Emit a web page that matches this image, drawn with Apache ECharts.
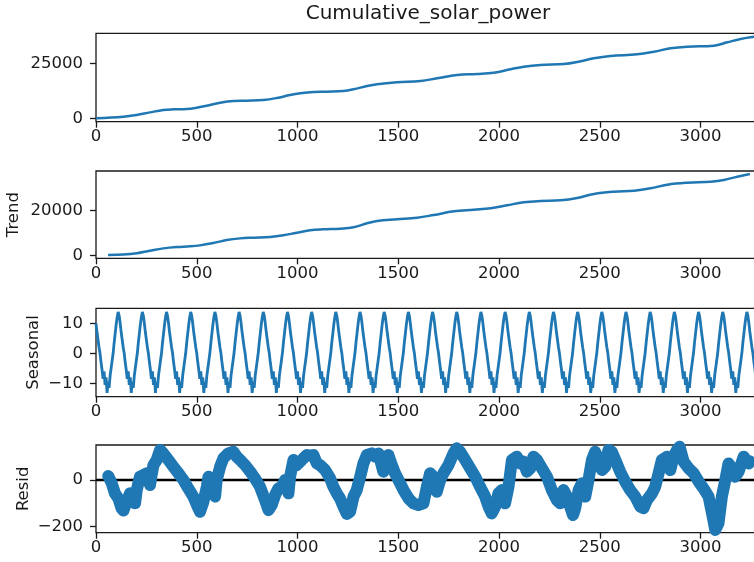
<!DOCTYPE html>
<html>
<head>
<meta charset="utf-8">
<script src="https://cdn.jsdelivr.net/npm/echarts@6/dist/echarts.min.js"></script>
<style>
  html, body { margin: 0; padding: 0; background: #fff; }
  #chart { width: 754px; height: 562px; }
</style>
</head>
<body>
<div id="chart"></div>
<script>
const cumX = [0, 136, 202, 268, 334, 384, 450, 500, 549, 616, 682, 748, 831, 897, 963, 1013, 1080, 1146, 1228, 1278, 1345, 1395,
  1494, 1610, 1693, 1792, 1892, 1974, 2057, 2123, 2206, 2322, 2388, 2471, 2553, 2686, 2769, 2851, 2934, 3067, 3133, 3199, 3267, 3305]
const cumY = [0, 700, 1500, 2700, 3770, 4090, 4230, 4820, 5730, 7090, 7860, 8000, 8320, 9230, 10590, 11360, 11950, 12090, 12400, 13180, 14680, 15500,
  16360, 16950, 18180, 19680, 20130, 20730, 22270, 23450, 24230, 24680, 25590, 27270, 28320, 29090, 30270, 31810, 32540, 32990, 34540, 36040, 37100, 37600]

const trendX = [60, 136, 202, 268, 334, 400, 467, 516, 582, 649, 715, 781, 864, 930, 996, 1062, 1128, 1211, 1278, 1345, 1395,
  1494, 1594, 1676, 1776, 1875, 1958, 2040, 2123, 2206, 2305, 2388, 2471, 2570, 2670, 2752, 2835, 2934, 3050, 3116, 3182, 3245]
const trendY = [300, 500, 1070, 2220, 3260, 3870, 4160, 4590, 5630, 6960, 7700, 8000, 8300, 9050, 10220, 11260, 11700, 12000, 12620, 14400, 15420,
  16170, 16890, 18090, 19730, 20440, 21060, 22400, 23730, 24310, 24620, 25640, 27420, 28440, 28890, 29950, 31550, 32440, 32890, 33640, 35110, 36310]

// one seasonal period (120 steps), sampled every 5, starting at x = 0
const seasonalStep = 5
const seasonalPeriod = 120
const seasonalCycle = [10.0, 7.0, 4.5, 2.0, 0.0, -3.0, -5.5, -8.5, -6.0, -10.5, -8.0, -13.2,
  -9.5, -11.5, -7.5, -5.0, -2.5, 0.0, 3.5, 6.5, 9.5, 12.0, 13.8, 12.5]
const lastIndex = 3305

const residX = [61, 78, 94, 111, 127, 136, 152, 169, 177, 194, 202, 218, 235, 252, 268, 276, 285, 301, 318, 334, 359, 384, 409, 434,
  458, 483, 508, 516, 533, 550, 558, 574, 591, 599, 616, 632, 657, 682, 698, 723, 740, 765, 789, 814, 839, 856, 872, 889, 905, 922,
  938, 955, 963, 980, 996, 1021, 1046, 1062, 1079, 1096, 1112, 1137, 1162, 1178, 1195, 1211, 1228, 1245, 1261, 1278, 1294, 1311,
  1327, 1344, 1369, 1385, 1402, 1426, 1435, 1451, 1468, 1484, 1501, 1526, 1551, 1575, 1600, 1625, 1642, 1658, 1675, 1691, 1708,
  1724, 1749, 1774, 1790, 1807, 1832, 1857, 1882, 1906, 1931, 1948, 1964, 1981, 1997, 2014, 2030, 2047, 2064, 2088, 2105, 2121,
  2138, 2155, 2171, 2188, 2213, 2238, 2262, 2287, 2304, 2320, 2337, 2353, 2367, 2378, 2395, 2411, 2428, 2444, 2461, 2477, 2494,
  2511, 2527, 2543, 2560, 2577, 2601, 2626, 2651, 2676, 2701, 2717, 2734, 2759, 2775, 2792, 2808, 2833, 2850, 2866, 2883, 2896,
  2916, 2941, 2966, 2991, 3015, 3040, 3057, 3073, 3089, 3106, 3123, 3139, 3156, 3172, 3189, 3214, 3239, 3245]
const residY = [17, -14, -57, -79, -121, -131, -93, -57, -86, -100, -43, 14, 21, 29, -21, 21, 64, 86, 129, 114, 86, 57, 29, 0,
  -36, -71, -121, -136, -93, -29, 14, -43, -71, 0, 57, 93, 114, 121, 100, 79, 64, 36, 7, -29, -86, -129, -107, -64, -36, -29,
  0, -57, 14, 86, 64, 86, 107, 104, 107, 71, 64, 43, 7, -29, -57, -79, -114, -145, -136, -71, -43, 14,
  71, 107, 114, 100, 114, 36, 93, 107, 64, 29, 0, -43, -79, -100, -107, -100, -29, 29, 14, -50, 0,
  29, 64, 114, 136, 121, 86, 50, 14, -29, -71, -114, -143, -114, -57, -43, -100, -29, 86, 100, 71, 79,
  36, 50, 100, 86, 50, 14, -43, -86, -100, -43, -71, -114, -150, -121, -43, -14, -71, 0, 86, 121, 86,
  43, 57, 129, 121, 86, 36, -7, -43, -71, -114, -121, -86, -57, -29, 29, 86, 100, 43, 100, 129, 143,
  79, 50, 29, -7, -36, -71, -143, -214, -186, -71, 0, 71, 50, 14, 36, 100, 71, 80]

const xTicks = [0, 500, 1000, 1500, 2000, 2500, 3000]

const zip = (xs, ys) => xs.map((x, i) => [x, ys[i]])

const seasonalData = []
for (let x = 0; x <= lastIndex; x += seasonalStep) {
  seasonalData.push([x, seasonalCycle[(x % seasonalPeriod) / seasonalStep]])
}

const blue = '#1f77b4'
const ink = '#1a1a1a'
const font = 'DejaVu Sans'

const panels = [
  { top: 33.3, height: 88.4, min: -1545, max: 38630, ticks: [0, 25000], name: '', gap: 0 },
  { top: 171, height: 87.3, min: -1155, max: 37640, ticks: [0, 20000], name: 'Trend', gap: 74 },
  { top: 308.3, height: 88.4, min: -14.47, max: 15, ticks: [-10, 0, 10], name: 'Seasonal', gap: 54 },
  { top: 445, height: 87.7, min: -225.7, max: 150, ticks: [-200, 0], name: 'Resid', gap: 64 }
]

const fmt = v => String(v).replace('-', '\u2212')

const option = {
  animation: false,
  backgroundColor: '#fff',
  title: {
    text: 'Cumulative_solar_power',
    left: 428,
    top: 4,
    padding: 0,
    textAlign: 'center',
    textStyle: { fontFamily: font, fontSize: 20, fontWeight: 'normal', color: ink }
  },
  grid: panels.map(p => ({
    left: 96,
    width: 666,
    top: p.top,
    height: p.height,
    show: true,
    borderColor: ink,
    borderWidth: 1.3,
    outerBoundsMode: 'none'
  })),
  xAxis: panels.map((p, i) => ({
    type: 'value',
    gridIndex: i,
    min: 0,
    max: lastIndex,
    axisLine: { show: false, onZero: false },
    splitLine: { show: false },
    axisTick: { show: true, length: 6, customValues: xTicks, lineStyle: { color: ink, width: 1.3 } },
    axisLabel: { customValues: xTicks, margin: 7, fontFamily: font, fontSize: 16.5, color: ink, formatter: fmt }
  })),
  yAxis: panels.map((p, i) => ({
    type: 'value',
    gridIndex: i,
    min: p.min,
    max: p.max,
    name: p.name,
    nameLocation: 'middle',
    nameGap: p.gap,
    nameRotate: 90,
    nameMoveOverlap: false,
    nameTextStyle: { fontFamily: font, fontSize: 16.5, color: ink },
    axisLine: { show: false, onZero: false },
    splitLine: { show: false },
    axisTick: { show: true, length: 6, customValues: p.ticks, lineStyle: { color: ink, width: 1.3 } },
    axisLabel: { customValues: p.ticks, margin: 13, fontFamily: font, fontSize: 16.5, color: ink, formatter: fmt }
  })),
  series: [
    {
      type: 'line', xAxisIndex: 0, yAxisIndex: 0, data: zip(cumX, cumY),
      showSymbol: false, smooth: 0.4, lineStyle: { color: blue, width: 2.5 }
    },
    {
      type: 'line', xAxisIndex: 1, yAxisIndex: 1, data: zip(trendX, trendY),
      showSymbol: false, smooth: 0.4, lineStyle: { color: blue, width: 2.5 }
    },
    {
      type: 'line', xAxisIndex: 2, yAxisIndex: 2, data: seasonalData,
      showSymbol: false, lineStyle: { color: blue, width: 2.8 }
    },
    {
      type: 'line', xAxisIndex: 3, yAxisIndex: 3, data: [[0, 0], [lastIndex, 0]],
      showSymbol: false, z: 1, lineStyle: { color: '#000', width: 2.5 }
    },
    {
      type: 'line', xAxisIndex: 3, yAxisIndex: 3, data: zip(residX, residY),
      showSymbol: false, z: 2,
      lineStyle: { color: blue, width: 12, cap: 'round', join: 'round' }
    }
  ]
}

const chart = echarts.init(document.getElementById('chart'))
chart.setOption(option)
</script>
</body>
</html>
